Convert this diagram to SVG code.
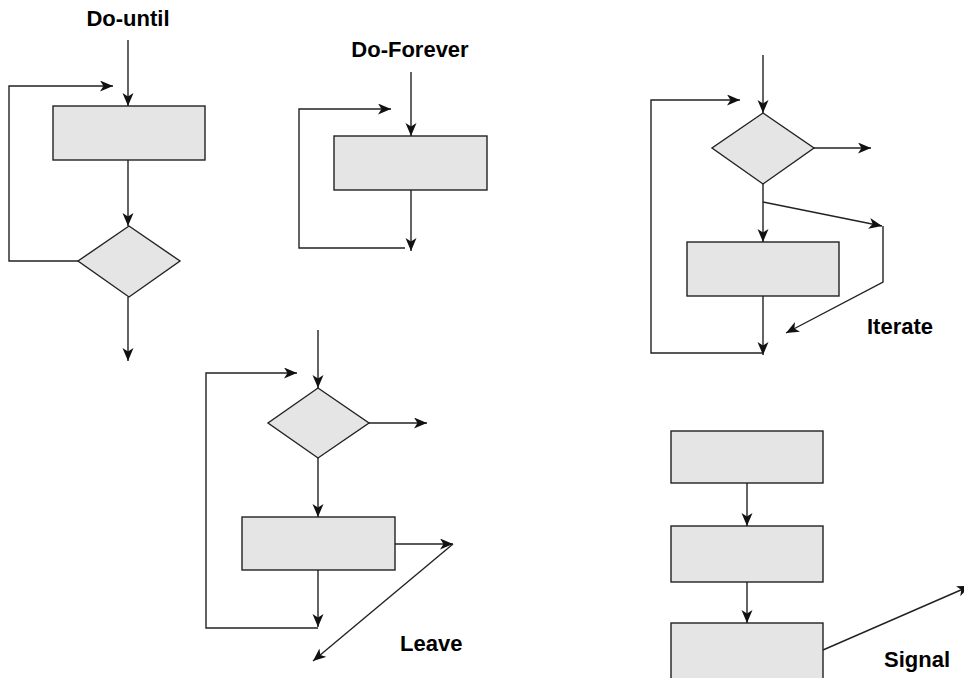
<svg xmlns="http://www.w3.org/2000/svg" width="964" height="678" viewBox="0 0 964 678">
<style>
.shape{fill:#e5e5e5;stroke:#222;stroke-width:1.4}
.c{fill:none;stroke:#222;stroke-width:1.4}
.a{marker-end:url(#ah)}
.lbl{font-family:"Liberation Sans",Arial,sans-serif;font-weight:bold;font-size:22px;fill:#000}
</style>
<defs>
<marker id="ah" markerUnits="userSpaceOnUse" markerWidth="15" markerHeight="12" refX="13" refY="5.5" orient="auto">
<path d="M0,0 L13,5.5 L0,11 L3.5,5.5 z" fill="#111"/>
</marker>
</defs>
<rect width="964" height="678" fill="#fff"/>

<!-- Do-until -->
<text class="lbl" x="128" y="26" text-anchor="middle">Do-until</text>
<g id="du-rect"><rect class="shape" x="53" y="106" width="152" height="54"/></g>
<g id="du-diamond"><polygon class="shape" points="129,226 180,261 129,297 78,261"/></g>

<!-- Do-Forever -->
<text class="lbl" x="410" y="57" text-anchor="middle">Do-Forever</text>
<g id="df-rect"><rect class="shape" x="334" y="136" width="153" height="54"/></g>

<!-- Iterate -->
<g id="it-diamond"><polygon class="shape" points="763,113 814,148 763,184 712,148"/></g>
<g id="it-rect"><rect class="shape" x="687" y="242" width="152" height="54"/></g>
<text class="lbl" x="867" y="334">Iterate</text>

<!-- Leave -->
<g id="lv-diamond"><polygon class="shape" points="318,388 369,423 318,458 268,423"/></g>
<g id="lv-rect"><rect class="shape" x="242" y="517" width="153" height="53"/></g>
<text class="lbl" x="400" y="651">Leave</text>

<!-- Signal -->
<g id="sg-rect1"><rect class="shape" x="671" y="431" width="152" height="52"/></g>
<g id="sg-rect2"><rect class="shape" x="671" y="526" width="152" height="56"/></g>
<g id="sg-rect3"><rect class="shape" x="671" y="623" width="152" height="70"/></g>
<text class="lbl" x="884" y="667">Signal</text>

<g id="connectors">
<!-- Do-until -->
<line class="c a" x1="128" y1="40" x2="128" y2="106"/>
<line class="c a" x1="128" y1="160" x2="128" y2="226"/>
<line class="c a" x1="128" y1="297" x2="128" y2="361"/>
<polyline class="c a" points="78,261 9,261 9,86 113,86"/>
<!-- Do-Forever -->
<line class="c a" x1="411" y1="72" x2="411" y2="136"/>
<line class="c a" x1="411" y1="190" x2="411" y2="251"/>
<polyline class="c a" points="405,248 299,248 299,109 391,109"/>
<!-- Iterate -->
<line class="c a" x1="763" y1="55" x2="763" y2="113"/>
<line class="c a" x1="814" y1="148" x2="871" y2="148"/>
<line class="c a" x1="763" y1="184" x2="763" y2="242"/>
<line class="c a" x1="763" y1="202" x2="882" y2="226"/>
<polyline class="c a" points="883,226 883,282 786,333"/>
<line class="c a" x1="763" y1="296" x2="763" y2="355"/>
<polyline class="c a" points="763,353 651,353 651,100 740,100"/>
<!-- Leave -->
<line class="c a" x1="318" y1="330" x2="318" y2="388"/>
<line class="c a" x1="369" y1="423" x2="427" y2="423"/>
<line class="c a" x1="318" y1="458" x2="318" y2="517"/>
<line class="c a" x1="395" y1="544" x2="453" y2="544"/>
<line class="c a" x1="453" y1="544" x2="313" y2="661"/>
<line class="c a" x1="318" y1="570" x2="318" y2="627"/>
<polyline class="c a" points="318,628 206,628 206,373 297,373"/>
<!-- Signal -->
<line class="c a" x1="747" y1="483" x2="747" y2="526"/>
<line class="c a" x1="747" y1="582" x2="747" y2="623"/>
<line class="c a" x1="823" y1="650" x2="970" y2="586"/>
</g>
</svg>
